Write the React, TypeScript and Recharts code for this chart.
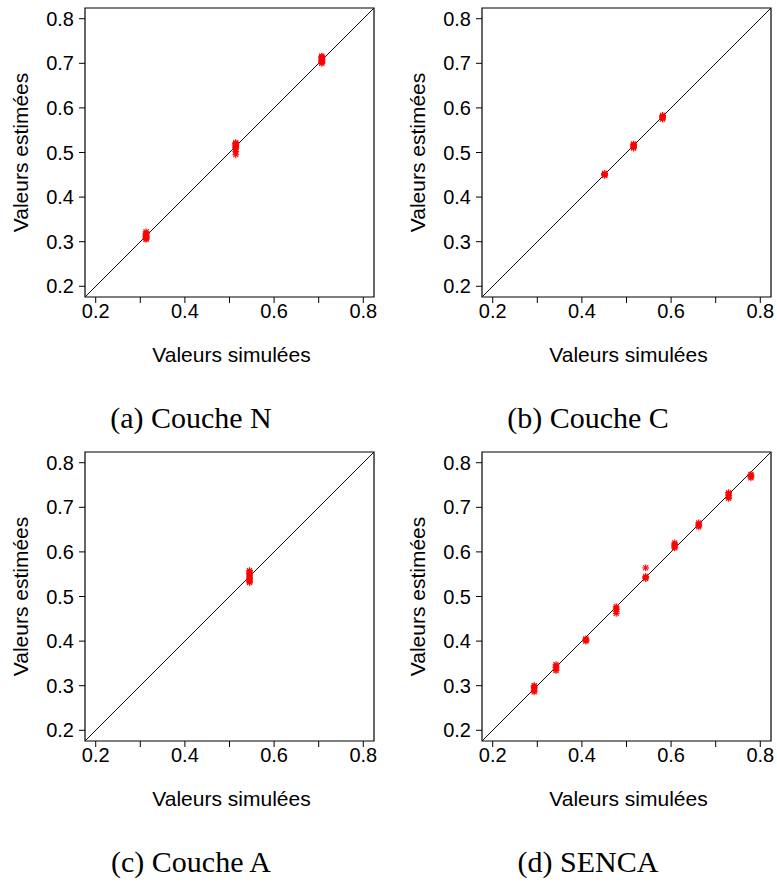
import React from "react";
import {
  ReferenceArea,
  ReferenceLine,
  Scatter,
  ScatterChart,
  XAxis,
  YAxis,
} from "recharts";

// simulated value of each cluster, then the estimated values drawn at it
const simN = [0.313, 0.514, 0.707];
const estN = [
  [0.305, 0.307, 0.309, 0.31, 0.312, 0.313, 0.315, 0.317, 0.319, 0.322],
  [0.495, 0.502, 0.508, 0.511, 0.513, 0.515, 0.517, 0.519, 0.52, 0.522],
  [0.7, 0.702, 0.704, 0.706, 0.707, 0.709, 0.711, 0.713, 0.715, 0.716],
];

const simC = [0.451, 0.516, 0.581];
const estC = [
  [0.449, 0.45, 0.451, 0.452, 0.453],
  [0.51, 0.512, 0.514, 0.516, 0.518, 0.519],
  [0.575, 0.577, 0.579, 0.58, 0.582, 0.583],
];

const simA = [0.545];
const estA = [[0.531, 0.534, 0.537, 0.54, 0.543, 0.546, 0.549, 0.552, 0.555, 0.558]];

const simS = [0.293, 0.342, 0.409, 0.477, 0.543, 0.608, 0.662, 0.729, 0.779];
const estS = [
  [0.286, 0.289, 0.293, 0.296, 0.299, 0.3],
  [0.334, 0.337, 0.341, 0.344, 0.347],
  [0.4, 0.402, 0.403, 0.405],
  [0.462, 0.466, 0.471, 0.474, 0.477],
  [0.54, 0.543, 0.545, 0.564],
  [0.609, 0.611, 0.614, 0.617, 0.62],
  [0.656, 0.659, 0.662, 0.665],
  [0.72, 0.723, 0.727, 0.73, 0.733],
  [0.766, 0.769, 0.772, 0.774],
];

const captions = ["(a) Couche N", "(b) Couche C", "(c) Couche A", "(d) SENCA"];
const xTicks = [0.2, 0.3, 0.4, 0.5, 0.6, 0.7, 0.8];
const xLabelled = [0.2, 0.4, 0.6, 0.8];
const yTicks = [0.2, 0.3, 0.4, 0.5, 0.6, 0.7, 0.8];
const LO = 0.176;
const HI = 0.824;

const SANS = "Liberation Sans";
const tickStyle = { fontSize: 20, fill: "#000", fontFamily: SANS };

function toPoints(sim: number[], est: number[][]) {
  return sim.flatMap((x, i) => est[i].map((y) => ({ x, y })));
}

// R's pch 8: a "+" laid over an "x"
function Star(props: any) {
  const { cx, cy } = props;
  const r = 3.4;
  const d = 2.5;
  return (
    <g stroke="#ff0000" strokeWidth={1.1}>
      <line x1={cx - r} y1={cy} x2={cx + r} y2={cy} />
      <line x1={cx} y1={cy - r} x2={cx} y2={cy + r} />
      <line x1={cx - d} y1={cy - d} x2={cx + d} y2={cy + d} />
      <line x1={cx - d} y1={cy + d} x2={cx + d} y2={cy - d} />
    </g>
  );
}

function Panel({ points, caption, left, top }: any) {
  return (
    <div style={{ position: "absolute", left, top }}>
      <ScatterChart width={388} height={440} margin={{ top: 8, right: 14, bottom: 0, left: 0 }}>
        <XAxis
          type="number"
          dataKey="x"
          domain={[LO, HI]}
          ticks={xTicks}
          interval={0}
          allowDataOverflow
          axisLine={false}
          tickLine={{ stroke: "#000" }}
          tickSize={6}
          tickMargin={1}
          tick={tickStyle}
          tickFormatter={(v: number) => (xLabelled.includes(v) ? v.toFixed(1) : "")}
          height={143}
          label={{
            content: ({ viewBox }: any) => (
              <g>
                <text
                  x={viewBox.x + viewBox.width / 2 + 2}
                  y={viewBox.y + 65}
                  textAnchor="middle"
                  fontFamily={SANS}
                  fontSize={21}
                  fill="#000"
                >
                  Valeurs simulées
                </text>
                <text
                  x={191}
                  y={viewBox.y + 131}
                  textAnchor="middle"
                  fontFamily="Liberation Serif"
                  fontSize={30}
                  fill="#000"
                >
                  {caption}
                </text>
              </g>
            ),
          }}
        />
        <YAxis
          type="number"
          dataKey="y"
          domain={[LO, HI]}
          ticks={yTicks}
          interval={0}
          allowDataOverflow
          axisLine={false}
          tickLine={{ stroke: "#000" }}
          tickSize={6}
          tickMargin={5}
          tick={tickStyle}
          tickFormatter={(v: number) => v.toFixed(1)}
          width={85}
          label={{
            content: ({ viewBox }: any) => {
              const cy = viewBox.y + viewBox.height / 2;
              return (
                <text
                  x={20}
                  y={cy}
                  transform={`rotate(-90 20 ${cy})`}
                  textAnchor="middle"
                  dominantBaseline="central"
                  fontFamily={SANS}
                  fontSize={21}
                  fill="#000"
                >
                  Valeurs estimées
                </text>
              );
            },
          }}
        />
        <ReferenceArea x1={LO} x2={HI} y1={LO} y2={HI} fill="none" stroke="#000" strokeWidth={1.2} />
        <Scatter data={points} shape={<Star />} isAnimationActive={false} />
        <ReferenceLine
          segment={[
            { x: LO, y: LO },
            { x: HI, y: HI },
          ]}
          stroke="#111"
          strokeWidth={1}
        />
      </ScatterChart>
    </div>
  );
}

export default function App() {
  return (
    <div style={{ position: "absolute", left: 0, top: 0, width: 777, height: 882, background: "#fff" }}>
      <Panel points={toPoints(simN, estN)} caption={captions[0]} left={0} top={0} />
      <Panel points={toPoints(simC, estC)} caption={captions[1]} left={397} top={0} />
      <Panel points={toPoints(simA, estA)} caption={captions[2]} left={0} top={444} />
      <Panel points={toPoints(simS, estS)} caption={captions[3]} left={397} top={444} />
    </div>
  );
}
